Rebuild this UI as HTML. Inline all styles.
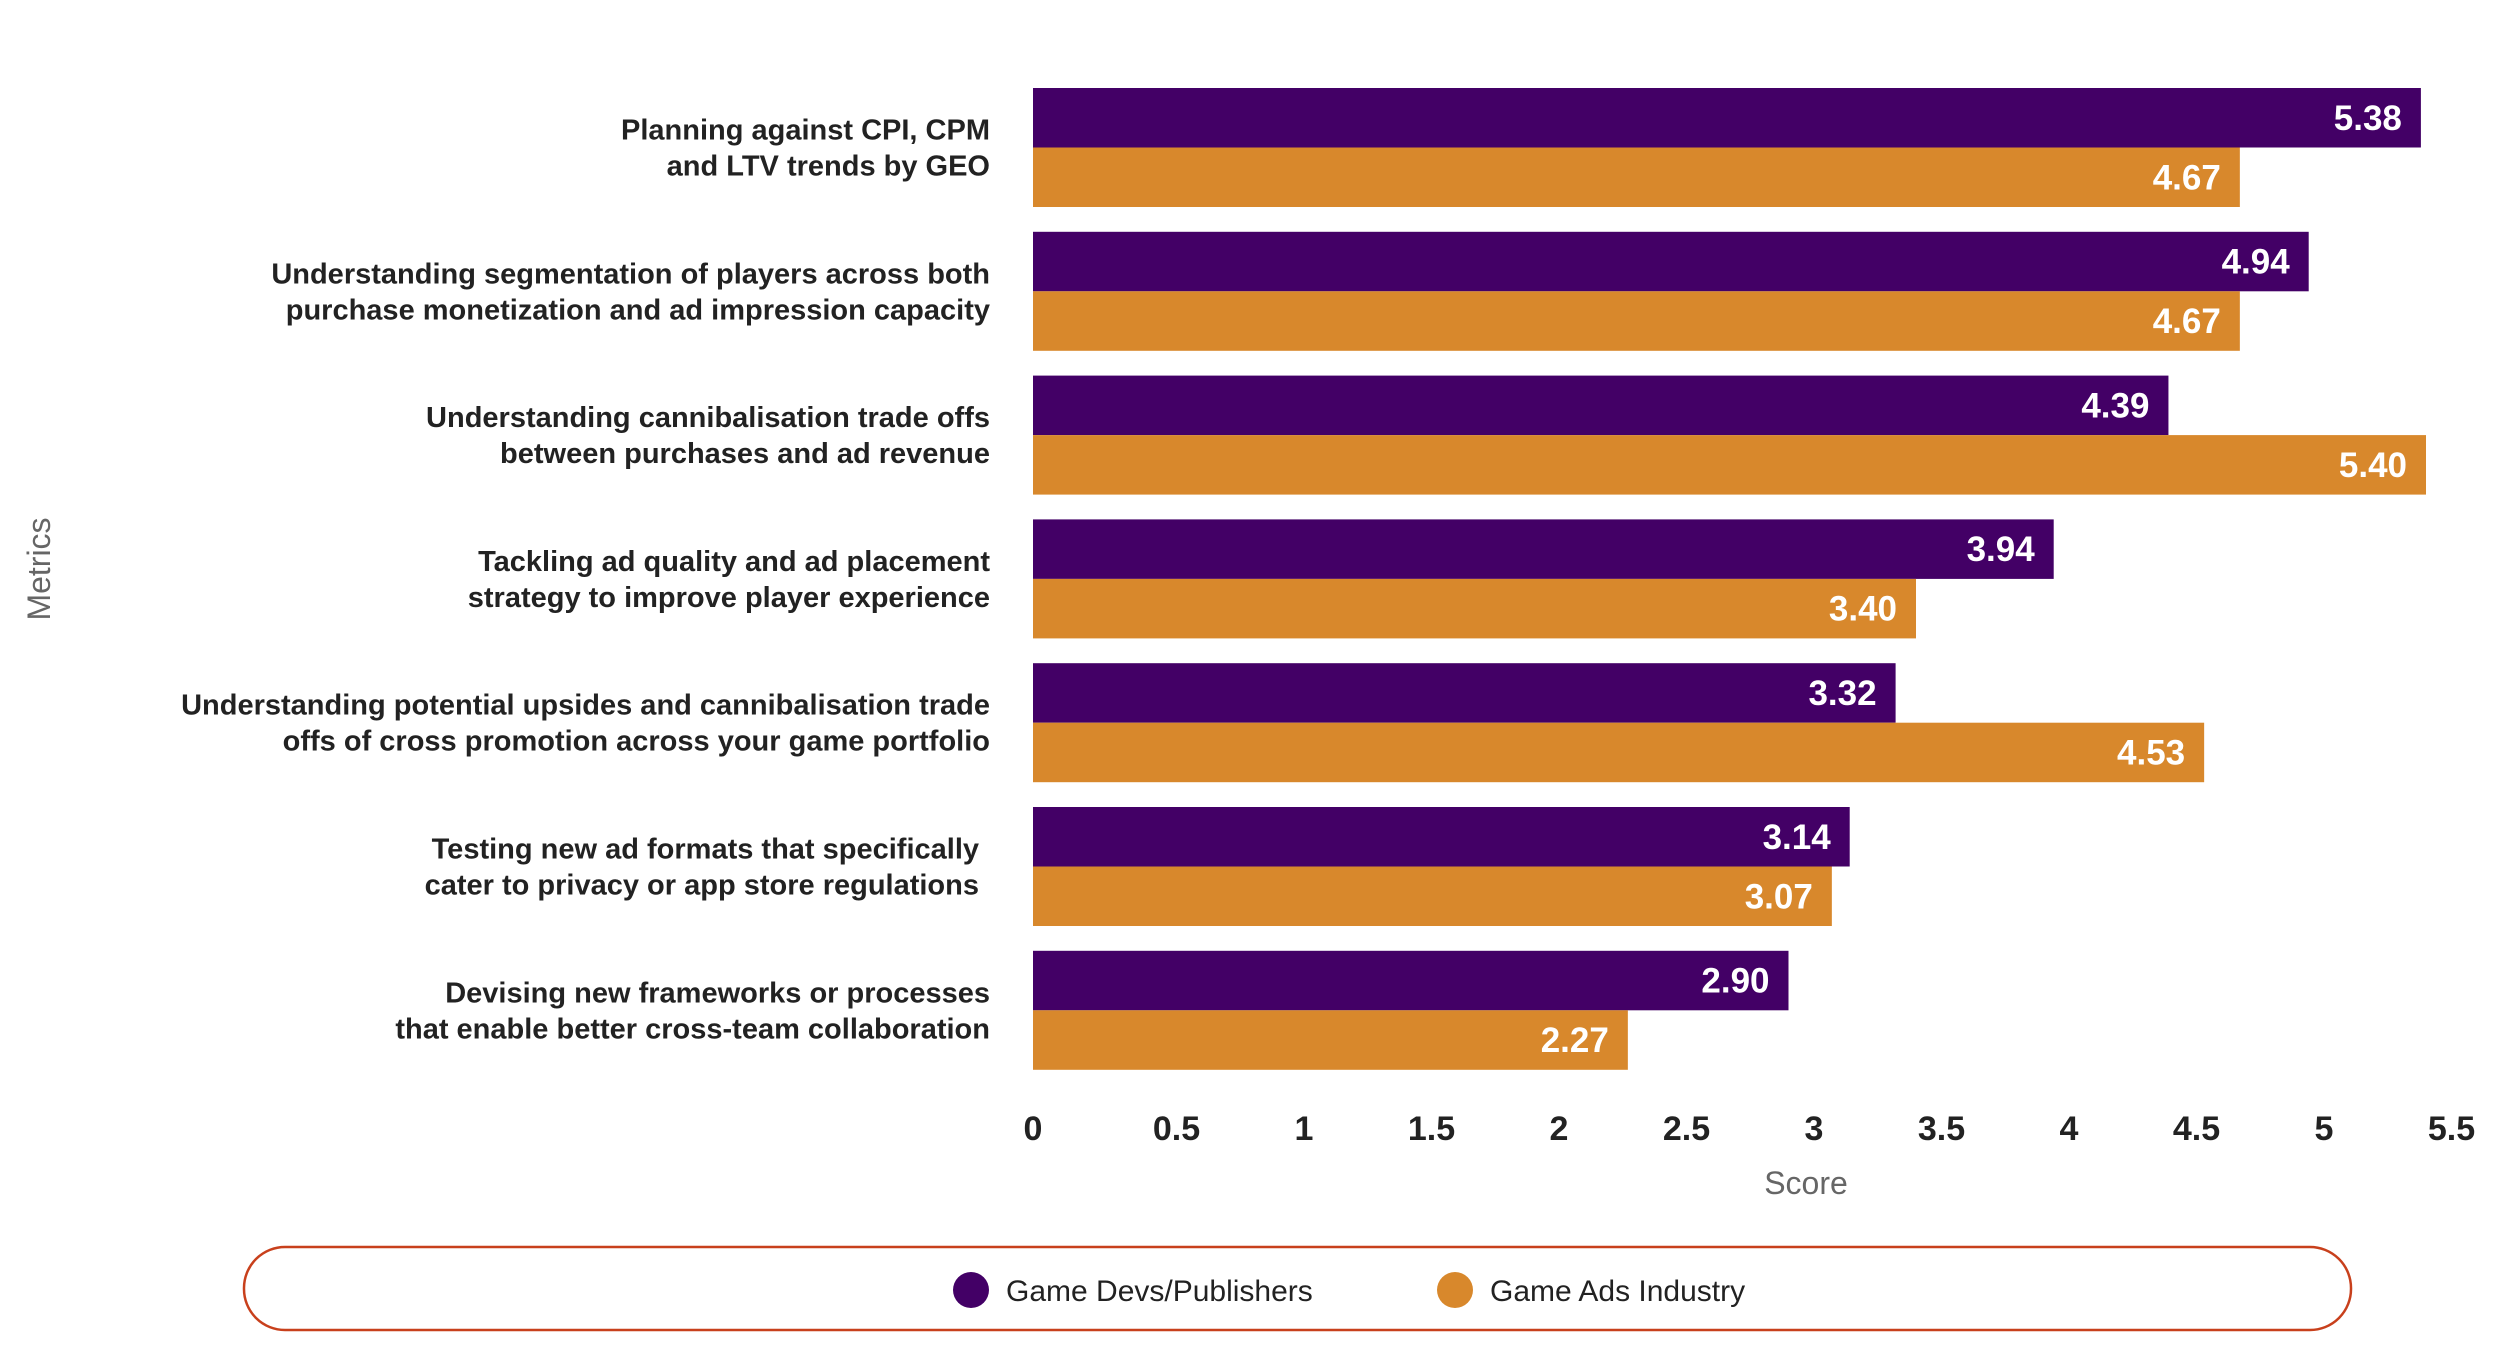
<!DOCTYPE html>
<html><head><meta charset="utf-8"><style>
html,body{margin:0;padding:0;background:#fff;}
svg{display:block;font-family:"Liberation Sans",sans-serif;}
</style></head><body>
<svg id="chart" width="2500" height="1356" viewBox="0 0 2500 1356">
<g id="labels"></g>
<g id="bars"></g>
<g id="ticks"></g>
<text x="1806" y="1194" font-size="32" fill="#666" text-anchor="middle">Score</text>
<text transform="translate(50,569) rotate(-90)" font-size="32" fill="#666" text-anchor="middle">Metrics</text>
<g>
<rect x="244" y="1247" width="2107" height="83" rx="41" fill="#fff" stroke="#c8401c" stroke-width="2.5"/>
<circle cx="971" cy="1290" r="18" fill="#430066"/>
<text x="1006" y="1301" font-size="30" fill="#222">Game Devs/Publishers</text>
<circle cx="1455" cy="1290" r="18" fill="#d8882c"/>
<text x="1490" y="1301" font-size="30" fill="#222">Game Ads Industry</text>
</g>
</svg>
<script>
const categories = [
 ["Planning against CPI, CPM","and LTV trends by GEO"],
 ["Understanding segmentation of players across both","purchase monetization and ad impression capacity"],
 ["Understanding cannibalisation trade offs","between purchases and ad revenue"],
 ["Tackling ad quality and ad placement","strategy to improve player experience"],
 ["Understanding potential upsides and cannibalisation trade","offs of cross promotion across your game portfolio"],
 ["Testing new ad formats that specifically","cater to privacy or app store regulations"],
 ["Devising new frameworks or processes","that enable better cross-team collaboration"]
];
const devsValues = [5.38, 4.94, 4.39, 3.94, 3.32, 3.14, 2.90];
const adsValues = [4.67, 4.67, 5.40, 3.40, 4.53, 3.07, 2.27];
const tickValues = [0, 0.5, 1, 1.5, 2, 2.5, 3, 3.5, 4, 4.5, 5, 5.5];

const NS = "http://www.w3.org/2000/svg";
const plotLeft = 1033;
function xScale(v){ return 1049 + v * 255; }
function groupTop(i){ return 88 + i * 143.8; }
const barH = 59.5;
function mk(tag, attrs, parent){
  const e = document.createElementNS(NS, tag);
  for (const k in attrs) e.setAttribute(k, attrs[k]);
  parent.appendChild(e);
  return e;
}
const gB = document.getElementById('bars');
const gL = document.getElementById('labels');
const gT = document.getElementById('ticks');
const series = [[devsValues, "#430066", "devs"], [adsValues, "#d8882c", "ads"]];
categories.forEach((cat, i) => {
  series.forEach((s, j) => {
    const v = s[0][i];
    const y = groupTop(i) + j * barH;
    const r = mk('rect', {x: plotLeft, y: y, width: xScale(v) - plotLeft, height: barH, fill: s[1]}, gB);
    
    
    const t = mk('text', {x: xScale(v) - 19, y: y + barH / 2 + 12, 'font-size': 35, 'font-weight': 'bold', fill: '#fff', 'text-anchor': 'end'}, gB);
    t.textContent = v.toFixed(2);
    
    
  });
  const cy = groupTop(i) + barH;
  const rx = i === 5 ? 979 : 990;
  cat.forEach((line, k) => {
    const t = mk('text', {x: rx, y: cy - 8 + k * 36, 'font-size': 29, 'font-weight': 'bold', fill: '#222', 'text-anchor': 'end'}, gL);
    t.textContent = line;
    
    
  });
});
tickValues.forEach(v => {
  const t = mk('text', {x: xScale(v) - (v === 0 ? 16 : 0), y: 1140, 'font-size': 34, 'font-weight': 'bold', fill: '#222', 'text-anchor': 'middle'}, gT);
  t.textContent = String(v);
  
  
});
</script>
</body></html>
